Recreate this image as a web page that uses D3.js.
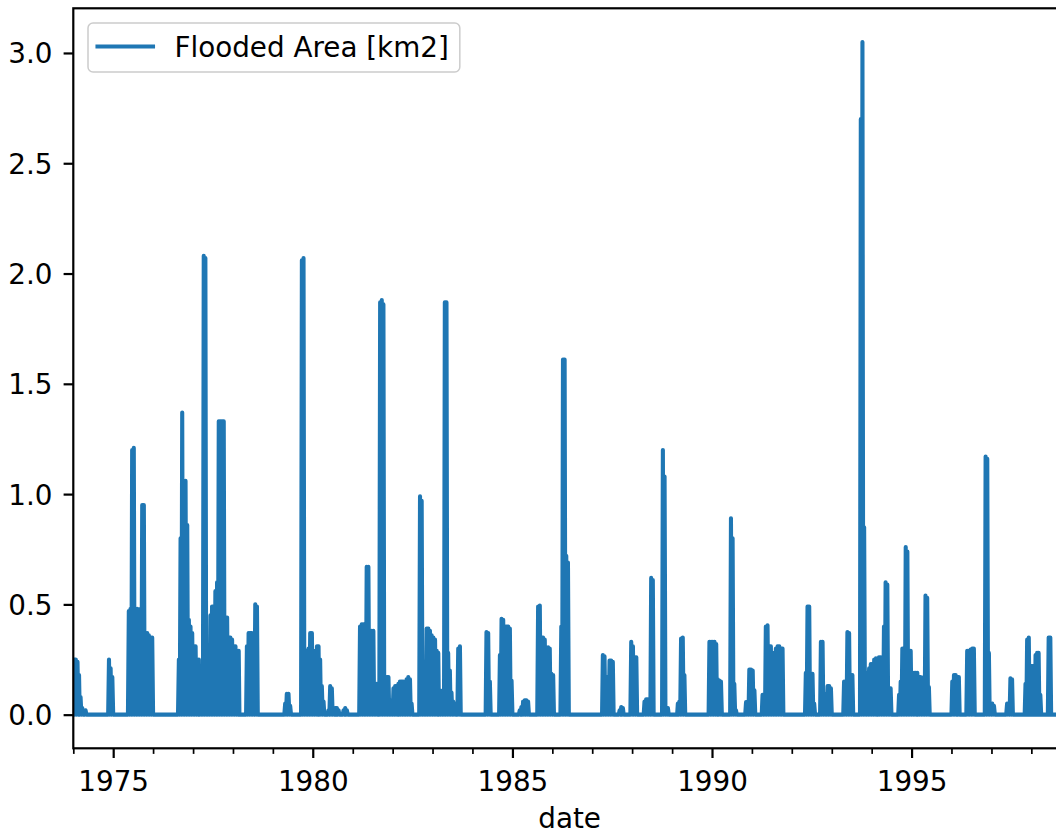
<!DOCTYPE html>
<html>
<head>
<meta charset="utf-8">
<script src="https://cdn.jsdelivr.net/npm/d3@7"></script>
<style>
  html, body { margin: 0; padding: 0; background: #ffffff; }
  svg { display: block; font-family: "DejaVu Sans", sans-serif; }
</style>
</head>
<body>
<svg id="chart" width="1056" height="835"></svg>
<script>
// ---------------------------------------------------------------
// DATA: peak flooded area [km2] in each half-month (1st-15th, 16th-end)
// of each year; between flood pulses the daily series falls back to 0.
// ---------------------------------------------------------------
const seriesName = "Flooded Area [km2]";
const xLabel = "date";
const yTickValues = [0.0, 0.5, 1.0, 1.5, 2.0, 2.5, 3.0];
const xMajorYears = [1975, 1980, 1985, 1990, 1995];
const xMinorYears = [1974, 1976, 1977, 1978, 1979, 1981, 1982, 1983, 1984, 1986, 1987, 1988, 1989, 1991, 1992, 1993, 1994, 1996, 1997, 1998];
const dateStart = "1974-01-01";
const dateEnd = "1998-11-14";

const flood1974 = [0.25,0.25,0.24,0.18,0.08,0.03,0.02,0.02,0,0,0,0,0,0,0,0,0,0,0,0,0,0.25,0.21,0.17];
const flood1975 = [0,0,0,0,0,0,0,0,0,0.47,0.48,1.20,1.21,0.48,0.48,0.47,0.48,0.95,0.95,0.37,0.37,0.36,0.35,0.35];
const flood1976 = [0,0,0,0,0,0,0,0,0,0,0,0,0,0,0,0.25,0.80,1.37,1.06,1.06,0.86,0.43,0.40,0.37];
const flood1977 = [0.31,0.31,0.25,0.25,0.08,0.10,2.08,2.07,0.07,0.20,0.45,0.49,0.49,0.56,0.60,1.33,1.33,1.33,1.33,0.44,0.44,0.35,0.35,0.34];
const flood1978 = [0.31,0.31,0.29,0.29,0,0,0,0,0.31,0.37,0.37,0.37,0.20,0.50,0.49,0,0,0,0,0,0,0,0,0];
const flood1979 = [0,0,0,0,0,0,0,0.05,0.095,0.095,0.04,0,0,0,0,0,0,2.06,2.07,0.29,0.29,0.30,0.37,0.37];
const flood1980 = [0.29,0.29,0.31,0.31,0.25,0.13,0.06,0,0,0.02,0.13,0.12,0.02,0.03,0.03,0.02,0,0,0.02,0.03,0.02,0,0,0];
const flood1981 = [0,0,0,0,0.40,0.41,0.41,0.41,0.67,0.67,0.38,0.38,0.38,0.14,0.14,0,1.87,1.88,1.86,0.17,0.17,0.17,0.065,0.065];
const flood1982 = [0.12,0.13,0.13,0.14,0.15,0.15,0.15,0.10,0.16,0.17,0.16,0.05,0,0,0,0,0.99,0.97,0.06,0.06,0.39,0.39,0.38,0.36];
const flood1983 = [0.35,0.34,0.29,0.28,0.11,0.10,0.11,1.87,1.87,0.28,0.20,0.10,0.06,0.05,0,0.30,0.31,0,0,0,0,0,0,0];
const flood1984 = [0,0,0,0,0,0,0,0,0.375,0.37,0.15,0,0,0,0,0,0.27,0.435,0.43,0.40,0.40,0.40,0.39,0.155];
const flood1985 = [0,0,0,0,0.02,0.035,0.06,0.065,0.065,0.06,0,0,0,0,0,0.49,0.495,0.35,0.35,0.34,0.30,0.305,0.30,0.185];
const flood1986 = [0.18,0,0,0,0,0.40,1.61,1.61,0.72,0.69,0,0,0,0,0,0,0,0,0,0,0,0,0,0];
const flood1987 = [0,0,0,0,0,0,0.27,0.265,0.17,0.17,0.245,0.245,0.24,0,0,0,0.02,0.035,0.03,0,0,0,0,0.33];
const flood1988 = [0.31,0.26,0.26,0,0,0,0,0.06,0.07,0.07,0.07,0.62,0.61,0,0,0,0,0,1.20,1.08,0.03,0.03,0,0];
const flood1989 = [0,0,0,0.05,0.06,0.345,0.35,0.18,0,0,0,0,0,0,0,0,0,0,0,0,0,0,0.33,0.33];
const flood1990 = [0.33,0.33,0.32,0.16,0.155,0.15,0,0,0,0,0,0.89,0.80,0.14,0.02,0,0,0,0,0,0.057,0.06,0.205,0.205];
const flood1991 = [0.20,0.11,0,0,0,0,0.09,0.09,0.40,0.405,0.31,0.31,0.28,0.10,0.30,0.31,0.31,0.30,0.30,0,0,0,0,0];
const flood1992 = [0,0,0,0,0,0,0,0,0.19,0.49,0.49,0.185,0.185,0.05,0,0,0,0.33,0.33,0.095,0.095,0.13,0.13,0.12];
const flood1993 = [0,0,0,0,0,0,0,0.15,0.15,0.375,0.37,0.18,0.18,0,0,0,0,2.70,3.05,0.85,0.19,0.19,0.21,0.23];
const flood1994 = [0.23,0.25,0.255,0.255,0.26,0.26,0.20,0.40,0.60,0.59,0.12,0.12,0,0,0,0,0.09,0.15,0.30,0.30,0.76,0.74,0.28,0.29];
const flood1995 = [0.19,0.19,0.19,0.19,0.17,0.17,0.16,0.17,0.54,0.53,0.125,0,0,0,0,0,0,0,0,0,0,0,0,0];
const flood1996 = [0.15,0.18,0.18,0.17,0.17,0,0,0,0,0.29,0.29,0.295,0.30,0.30,0,0,0,0,0,0,1.17,1.16,0.28,0.05];
const flood1997 = [0.05,0.04,0,0,0,0,0,0,0,0.05,0.05,0.165,0.16,0,0,0,0,0,0,0,0.14,0.34,0.35,0.22];
const flood1998 = [0.22,0.22,0.27,0.28,0.28,0.09,0,0,0,0,0.35,0.35,0,0,0,0,0,0,0,0,0];

// table built from the arrays above
const yearTable = [
  [1974, flood1974], [1975, flood1975], [1976, flood1976], [1977, flood1977],
  [1978, flood1978], [1979, flood1979], [1980, flood1980], [1981, flood1981],
  [1982, flood1982], [1983, flood1983], [1984, flood1984], [1985, flood1985],
  [1986, flood1986], [1987, flood1987], [1988, flood1988], [1989, flood1989],
  [1990, flood1990], [1991, flood1991], [1992, flood1992], [1993, flood1993],
  [1994, flood1994], [1995, flood1995], [1996, flood1996], [1997, flood1997],
  [1998, flood1998]
];

// ---------------------------------------------------------------
// LAYOUT / STYLE
// ---------------------------------------------------------------
const FS = 27.8;               // font size px (10pt)
const LW = 4.1;                // line width (1.5pt)
const SPINE = 2.2;
const MAJ = 9.7, MIN = 5.6;
const pL = 73.3, pT = 8.3, pR = 1066, pB = 748.3;
const color = "#1f77b4";

const svg = d3.select("#chart");
const parse = d3.utcParse("%Y-%m-%d");

const x = d3.scaleUtc()
  .domain([parse(dateStart), parse(dateEnd)])
  .range([pL, pR]);
const y = d3.scaleLinear()
  .domain([-0.1525, 3.2025])
  .range([pB, pT]);

// build points: each half-month's peak, then the drop back to zero
const points = [];
yearTable.forEach(([yr, vals]) => {
  vals.forEach((v, s) => {
    const m = Math.floor(s / 2);
    const start = s % 2 ? Date.UTC(yr, m, 16) : Date.UTC(yr, m, 1);
    const end = s % 2 ? Date.UTC(yr, m + 1, 1) : Date.UTC(yr, m, 16);
    points.push({ t: new Date((start + end) / 2), v: v });
    points.push({ t: new Date(end), v: 0 });
  });
});

svg.append("defs").append("clipPath").attr("id", "plotclip")
  .append("rect")
  .attr("x", pL).attr("y", pT)
  .attr("width", pR - pL).attr("height", pB - pT);

const line = d3.line().x(d => x(d.t)).y(d => y(d.v));

svg.append("g").attr("clip-path", "url(#plotclip)")
  .append("path")
  .datum(points)
  .attr("d", line)
  .attr("fill", "none")
  .attr("stroke", color)
  .attr("stroke-width", LW)
  .attr("stroke-linejoin", "round")
  .attr("stroke-linecap", "square");

// ---------------- axes ----------------
const yAxis = d3.axisLeft(y)
  .tickValues(yTickValues)
  .tickSize(MAJ)
  .tickPadding(pL - MAJ - 52.5)
  .tickFormat(d3.format(".1f"));
const gy = svg.append("g").attr("transform", `translate(${pL},0)`).call(yAxis);
gy.select(".domain").remove();
gy.selectAll(".tick line").attr("stroke", "#000").attr("stroke-width", SPINE);
gy.selectAll(".tick text").attr("fill", "#000").attr("font-size", FS)
  .attr("font-family", "DejaVu Sans, sans-serif").attr("dy", "0.36em");

const xAxisMajor = d3.axisBottom(x)
  .tickValues(xMajorYears.map(yv => new Date(Date.UTC(yv, 0, 1))))
  .tickSize(MAJ)
  .tickPadding(13.3)
  .tickFormat(d3.utcFormat("%Y"));
const gx = svg.append("g").attr("transform", `translate(0,${pB})`).call(xAxisMajor);
gx.select(".domain").remove();
gx.selectAll(".tick line").attr("stroke", "#000").attr("stroke-width", SPINE);
gx.selectAll(".tick text").attr("fill", "#000").attr("font-size", FS)
  .attr("font-family", "DejaVu Sans, sans-serif");

const xAxisMinor = d3.axisBottom(x)
  .tickValues(xMinorYears.map(yv => new Date(Date.UTC(yv, 0, 1))))
  .tickSize(MIN)
  .tickFormat("");
const gxm = svg.append("g").attr("transform", `translate(0,${pB})`).call(xAxisMinor);
gxm.select(".domain").remove();
gxm.selectAll(".tick line").attr("stroke", "#000").attr("stroke-width", 1.7);

// spines
svg.append("rect")
  .attr("x", pL).attr("y", pT)
  .attr("width", pR - pL).attr("height", pB - pT)
  .attr("fill", "none").attr("stroke", "#000").attr("stroke-width", SPINE);

// x label
svg.append("text")
  .attr("x", (pL + pR) / 2).attr("y", 828)
  .attr("text-anchor", "middle")
  .attr("font-size", FS).attr("fill", "#000")
  .text(xLabel);

// ---------------- legend ----------------
const leg = svg.append("g");
const legRect = leg.append("rect")
  .attr("x", 88).attr("y", 23).attr("height", 49)
  .attr("rx", 5).attr("ry", 5)
  .attr("fill", "#ffffff").attr("fill-opacity", 0.8)
  .attr("stroke", "#cccccc").attr("stroke-width", 1.5);
leg.append("line")
  .attr("x1", 97.5).attr("x2", 153).attr("y1", 46.5).attr("y2", 46.5)
  .attr("stroke", color).attr("stroke-width", LW).attr("stroke-linecap", "square");
const legText = leg.append("text")
  .attr("x", 174.5).attr("y", 46.5).attr("dy", "0.36em")
  .attr("font-size", FS).attr("fill", "#000")
  .text(seriesName);
const tl = legText.node().getComputedTextLength();
legRect.attr("width", 174.5 + tl + 11 - 88);
</script>
</body>
</html>
